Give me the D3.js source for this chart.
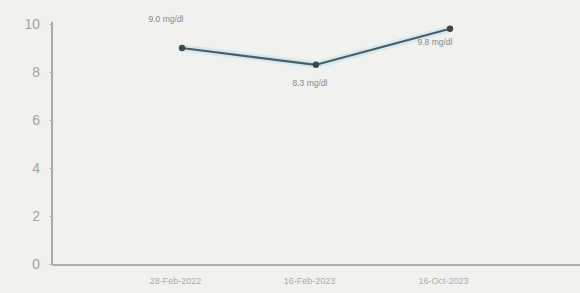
<!DOCTYPE html>
<html><head><meta charset="utf-8">
<script src="https://cdn.jsdelivr.net/npm/d3@7"></script>
<style>
html,body{margin:0;padding:0;background:#f1f2ee;}
svg{display:block;}
</style></head>
<body>
<svg id="c" width="580" height="293"></svg>
<script>
const categories = ["28-Feb-2022", "16-Feb-2023", "16-Oct-2023"];
const values = [9.0, 8.3, 9.8];
const yTicks = [0, 2, 4, 6, 8, 10];
const unit = "mg/dl";

const W = 580, H = 293;
const m = {left: 52, right: 0, top: 24, bottom: 29};
const svg = d3.select("#c");
svg.append("rect").attr("width", W).attr("height", H).attr("fill", "#f1f2ee");

const x = d3.scalePoint().domain(categories).range([m.left, W - m.right]).padding(0.97);
const y = d3.scaleLinear().domain([0, 10]).range([H - m.bottom, m.top]);

// Y axis
const ya = svg.append("g").attr("transform", `translate(${m.left},0)`)
  .call(d3.axisLeft(y).tickValues(yTicks).tickSize(3).tickPadding(9).tickFormat(d3.format("d")));
ya.select(".domain").attr("stroke", "#8a8a88").attr("stroke-width", 1.4).attr("d", `M0,${y(10) - 2}V${y(0) + 1}`);
ya.selectAll(".tick line").attr("stroke", "#bbb");
ya.selectAll(".tick text").attr("fill", "#a4a4a2").attr("font-size", 14).attr("font-family", "Liberation Sans, Arial, sans-serif");

// X axis
const xa = svg.append("g").attr("transform", `translate(0,${y(0) + 1})`)
  .call(d3.axisBottom(x).tickSize(0).tickPadding(13));
xa.select(".domain").attr("stroke", "#9a9a98").attr("stroke-width", 1.4).attr("d", `M${m.left},0H${W}`);
xa.selectAll(".tick text").attr("fill", "#acacaa").attr("font-size", 9).attr("font-family", "Liberation Sans, Arial, sans-serif")
  .attr("dx", -7);

// line glow
const line = d3.line().x((d, i) => x(categories[i])).y(d => y(d));
svg.append("path").datum(values).attr("d", line).attr("fill", "none")
  .attr("stroke", "#cfe6ee").attr("stroke-width", 7).attr("stroke-linejoin", "round").attr("opacity", 0.8);
svg.append("path").datum(values).attr("d", line).attr("fill", "none")
  .attr("stroke", "#4d5d68").attr("stroke-width", 2.2).attr("stroke-linejoin", "round");

svg.selectAll("circle.pt").data(values).join("circle").attr("class", "pt")
  .attr("cx", (d, i) => x(categories[i])).attr("cy", d => y(d)).attr("r", 3.2).attr("fill", "#3e474d");

// labels
const offs = [[-16, -26], [-6, 21], [-15, 16]];
svg.selectAll("text.lbl").data(values).join("text").attr("class", "lbl")
  .attr("x", (d, i) => x(categories[i]) + offs[i][0])
  .attr("y", (d, i) => y(d) + offs[i][1])
  .attr("text-anchor", "middle").attr("font-size", 8.5)
  .attr("font-family", "Liberation Sans, Arial, sans-serif").attr("fill", "#8a8a88")
  .text(d => d3.format(".1f")(d) + " " + unit);
</script>
</body></html>
